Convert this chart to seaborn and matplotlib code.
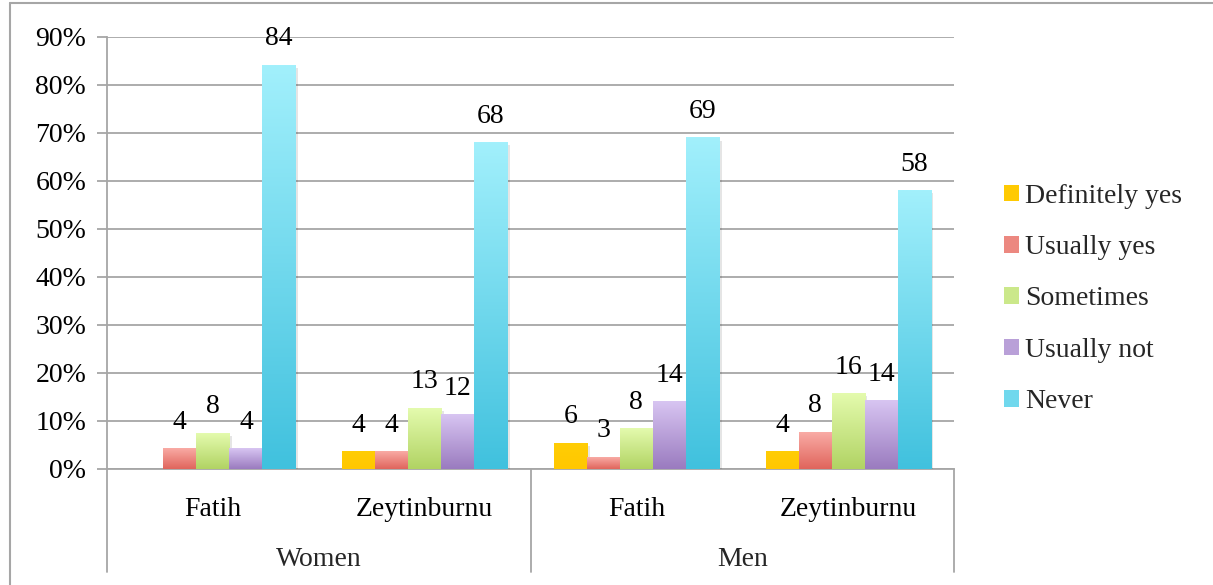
import numpy as np
import pandas as pd
import matplotlib
matplotlib.use("Agg")
import matplotlib.pyplot as plt
import seaborn as sns
from matplotlib.colors import LinearSegmentedColormap
from matplotlib.lines import Line2D
from matplotlib.patches import Patch
from matplotlib.transforms import blended_transform_factory
import matplotlib.patheffects as pe

# ---- data (percent) ----
sexes = ["Women", "Women", "Men", "Men"]
districts = ["Fatih", "Zeytinburnu", "Fatih", "Zeytinburnu"]
answers = ["Definitely yes", "Usually yes", "Sometimes", "Usually not", "Never"]

definitely_yes = [0.0, 3.6, 5.4, 3.6]
usually_yes = [4.2, 3.6, 2.5, 7.7]
sometimes = [7.4, 12.7, 8.4, 15.7]
usually_not = [4.2, 11.3, 14.0, 14.2]
never = [84.1, 68.0, 69.0, 58.0]

definitely_yes_lbl = ["", "4", "6", "4"]
usually_yes_lbl = ["4", "4", "3", "8"]
sometimes_lbl = ["8", "13", "8", "16"]
usually_not_lbl = ["4", "12", "14", "14"]
never_lbl = ["84", "68", "69", "58"]

series = [definitely_yes, usually_yes, sometimes, usually_not, never]
series_lbl = [definitely_yes_lbl, usually_yes_lbl, sometimes_lbl, usually_not_lbl, never_lbl]

# gradient colours (top, bottom) per answer
tops = ["#FFCD05", "#F9ABA5", "#E4FBAE", "#D8C5F2", "#A2F0FC"]
bottoms = ["#FFC700", "#E0655C", "#B1D363", "#9A7BBF", "#40C1DE"]
mids = ["#FFCA02", "#EC8880", "#CBE88A", "#B9A0D8", "#70D8ED"]

slots = [f"{s} {d}" for s, d in zip(sexes, districts)]
rows = []
for ans, vals in zip(answers, series):
    for slot, v in zip(slots, vals):
        rows.append({"slot": slot, "answer": ans, "value": v})
df = pd.DataFrame(rows)

# ---- style ----
sns.set_style("white")
plt.rcParams["font.family"] = ["Liberation Serif", "DejaVu Serif"]
grey = "#A6A6A6"
fs = 20

W, H = 1213, 585
fig = plt.figure(figsize=(W / 100, H / 100), dpi=100)
ax = fig.add_axes([107 / W, 1 - 469 / H, (954 - 107) / W, (469 - 37) / H])

sns.barplot(data=df, x="slot", y="value", hue="answer", order=slots,
            hue_order=answers, palette=mids, width=0.78, ax=ax,
            legend=False, linewidth=0, edgecolor="none", zorder=3)

grad = np.linspace(1, 0, 256).reshape(-1, 1)
for i, cont in enumerate(ax.containers):
    cmap = LinearSegmentedColormap.from_list(f"g{i}", [bottoms[i], tops[i]])
    for bar, lbl in zip(cont, series_lbl[i]):
        x, w, h = bar.get_x(), bar.get_width(), bar.get_height()
        if h <= 0:
            continue
        bar.set_path_effects([pe.SimplePatchShadow(offset=(2, -2), shadow_rgbFace="k", alpha=0.1),
                              pe.Normal()])
        ax.imshow(grad, cmap=cmap, vmin=0, vmax=1, origin="upper", aspect="auto",
                  extent=[x, x + w, 0, h], zorder=3.5, interpolation="bilinear")
        if lbl:
            ax.annotate(lbl, (x + w / 2, h), xytext=(0, 14.4), textcoords="offset points",
                        ha="center", va="baseline", fontsize=fs, color="black", zorder=5)

ax.set_xlim(-0.5, 3.5)
ax.set_ylim(0, 90)
ax.set_yticks(range(0, 91, 10))
ax.set_yticklabels([f"{v}%" for v in range(0, 91, 10)])
ax.set_xticks(range(4))
ax.set_xticklabels(districts)
ax.set_xlabel("")
ax.set_ylabel("")

ax.set_axisbelow(True)
ax.yaxis.grid(True, color=grey, lw=1.3)
ax.xaxis.grid(False)
ax.tick_params(axis="y", length=7, width=1.3, color=grey, direction="out", pad=8,
               labelsize=fs, labelcolor="black", left=True)
ax.tick_params(axis="x", length=0, pad=20, labelsize=fs, labelcolor="black")
for side in ["top", "right"]:
    ax.spines[side].set_visible(False)
for side in ["left", "bottom"]:
    ax.spines[side].set_color(grey)
    ax.spines[side].set_linewidth(1.3)

# group dividers and second level labels
trans = blended_transform_factory(ax.transData, ax.transAxes)
for xv in [-0.5, 1.5, 3.5]:
    ax.plot([xv, xv], [0, -103 / 432], transform=trans, clip_on=False, color=grey, lw=1.3)
for sex, cx in [("Women", 0.5), ("Men", 2.5)]:
    ax.text(cx, -90 / 432, sex, transform=trans, ha="center", va="center", fontsize=fs)

# legend
handles = [Patch(facecolor=c, edgecolor="none") for c in mids]
fig.legend(handles, answers, loc="center left", bbox_to_anchor=(1004 / W, 1 - 299 / H),
           frameon=False, fontsize=fs, handlelength=0.55, handleheight=0.55,
           handletextpad=0.22, labelspacing=0.95, borderpad=0, borderaxespad=0)

# outer chart border
fig.add_artist(Line2D([10 / W, 10 / W], [0, 1 - 3 / H], transform=fig.transFigure, color=grey, lw=1.5))
fig.add_artist(Line2D([10 / W, 1], [1 - 3 / H, 1 - 3 / H], transform=fig.transFigure, color=grey, lw=1.5))

fig.savefig("out.png", dpi=100)
